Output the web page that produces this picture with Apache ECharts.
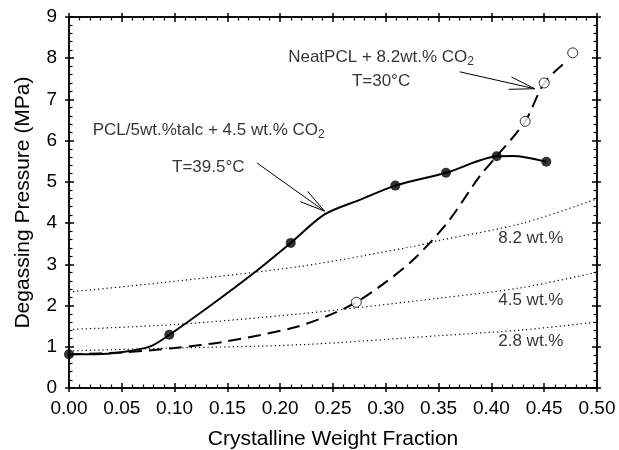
<!DOCTYPE html>
<html>
<head>
  <meta charset="utf-8">
  <title>Degassing Pressure vs Crystalline Weight Fraction</title>
  <script src="https://cdn.jsdelivr.net/npm/echarts@6/dist/echarts.min.js"></script>
</head>
<body style="margin:0">
  <div id="main" style="width: 619px; height: 450px;"></div>

  <script>
    // PCL/5wt.%talc + 4.5 wt.% CO2, T=39.5°C  (filled circles + solid curve)
    var talcPoints = [[0.000, 0.82], [0.095, 1.29], [0.210, 3.52], [0.309, 4.91], [0.357, 5.22], [0.405, 5.62], [0.452, 5.49]];
    var talcCurve = [[0.000, 0.82], [0.025, 0.82], [0.050, 0.87], [0.077, 1.01], [0.095, 1.29], [0.135, 2.02],
      [0.175, 2.79], [0.210, 3.52], [0.242, 4.21], [0.276, 4.57], [0.309, 4.91], [0.357, 5.22],
      [0.405, 5.62], [0.420, 5.63], [0.452, 5.49]];

    // NeatPCL + 8.2wt.% CO2, T=30°C  (open circles + dashed curve)
    var neatPoints = [[0.272, 2.08], [0.432, 6.47], [0.450, 7.40], [0.477, 8.13]];
    var neatCurve = [[0.000, 0.82], [0.050, 0.86], [0.100, 0.97], [0.149, 1.13], [0.212, 1.46], [0.244, 1.74],
      [0.272, 2.08], [0.299, 2.55], [0.326, 3.11], [0.358, 4.00], [0.389, 5.14], [0.405, 5.62],
      [0.432, 6.47], [0.450, 7.40], [0.470, 7.90]];

    // dotted reference curves
    var iso82 = [[0.000, 2.33], [0.086, 2.55], [0.219, 2.95], [0.323, 3.42], [0.351, 3.58], [0.430, 4.00], [0.500, 4.59]];
    var iso45 = [[0.000, 1.42], [0.100, 1.54], [0.219, 1.80], [0.351, 2.18], [0.430, 2.44], [0.500, 2.81]];
    var iso28 = [[0.000, 0.90], [0.100, 0.97], [0.219, 1.05], [0.351, 1.27], [0.430, 1.41], [0.500, 1.60]];

    // arrows: [fromX, fromY, toX, toY]
    var arrows = [[0.178, 5.46, 0.242, 4.29], [0.370, 7.67, 0.441, 7.26]];

    // text notes: [text, x, y, anchor]
    var notes = [
      ['PCL/5wt.%talc + 4.5 wt.% CO2', 0.1323, 6.25, 'center'],
      ['T=39.5°C', 0.1319, 5.35, 'center'],
      ['NeatPCL + 8.2wt.% CO2', 0.2955, 8.03, 'center'],
      ['T=30°C', 0.2955, 7.43, 'center'],
      ['8.2 wt.%', 0.4065, 3.64, 'left'],
      ['4.5 wt.%', 0.4065, 2.13, 'left'],
      ['2.8 wt.%', 0.4065, 1.13, 'left']
    ];

    var xTicks = { min: 0, max: 0.5, interval: 0.05 };
    var yTicks = { min: 0, max: 9, interval: 1 };

    var FONT = 'Liberation Sans, Arial, Helvetica, sans-serif';

    document.addEventListener('DOMContentLoaded', function () {
      var myChart = echarts.init(document.getElementById('main'));

      // one side of the frame; grid 0 gets inner ticks (+ minor), grid 1 the outer half of major ticks
      function frameAxis(range, position, gridIndex) {
        var inside = gridIndex === 0;
        return {
          type: 'value',
          gridIndex: gridIndex,
          position: position,
          min: range.min,
          max: range.max,
          interval: range.interval,
          axisLine: { show: true, onZero: false, lineStyle: { color: '#000', width: 1.5 } },
          axisTick: { show: true, inside: inside, length: inside ? 5 : 4, lineStyle: { color: '#000', width: 1.5 } },
          minorTick: { show: inside, splitNumber: 5, length: 3.5, lineStyle: { color: '#000', width: 1.2 } },
          splitLine: { show: false },
          axisLabel: { show: false }
        };
      }

      var xMain = frameAxis(xTicks, 'bottom', 0);
      xMain.axisLabel = {
        show: true, margin: 11, color: '#000', fontSize: 19, fontFamily: FONT,
        showMinLabel: true, showMaxLabel: true,
        formatter: function (v) { return v.toFixed(2); }
      };
      xMain.name = 'Crystalline Weight Fraction';
      xMain.nameLocation = 'middle';
      xMain.nameGap = 41;
      xMain.nameTextStyle = { color: '#000', fontSize: 21, fontFamily: FONT };

      var yMain = frameAxis(yTicks, 'left', 0);
      yMain.axisLabel = {
        show: true, margin: 12, color: '#000', fontSize: 19, fontFamily: FONT,
        showMinLabel: true, showMaxLabel: true
      };
      yMain.name = 'Degassing Pressure (MPa)';
      yMain.nameLocation = 'middle';
      yMain.nameGap = 35;
      yMain.nameRotate = 90;
      yMain.nameTextStyle = { color: '#000', fontSize: 21, fontFamily: FONT };

      function arrowItem(params, api) {
        var p0 = api.coord([api.value(0), api.value(1)]);
        var p1 = api.coord([api.value(2), api.value(3)]);
        var back = Math.atan2(p0[1] - p1[1], p0[0] - p1[0]);
        var spread = 14 * Math.PI / 180;
        var len = 26;
        var style = { stroke: '#000', lineWidth: 1 };
        function barb(sign) {
          var a = back + sign * spread;
          return {
            type: 'line',
            shape: { x1: p1[0], y1: p1[1], x2: p1[0] + len * Math.cos(a), y2: p1[1] + len * Math.sin(a) },
            style: style
          };
        }
        return {
          type: 'group',
          children: [
            { type: 'line', shape: { x1: p0[0], y1: p0[1], x2: p1[0], y2: p1[1] }, style: style },
            barb(1),
            barb(-1)
          ]
        };
      }

      function noteLabel(text) {
        var i = text.indexOf('CO2');
        if (i < 0) return '{t|' + text + '}';
        return '{t|' + text.slice(0, i) + 'CO}{s|2}';
      }

      var dotted = { color: '#000', width: 1.2, type: [1.2, 3] };
      var box = { left: 69, right: 22, top: 17, bottom: 62, outerBoundsMode: 'none' };

      var option = {
        animation: false,
        backgroundColor: '#fff',
        grid: [box, box],
        xAxis: [
          xMain,
          frameAxis(xTicks, 'top', 0),
          frameAxis(xTicks, 'bottom', 1),
          frameAxis(xTicks, 'top', 1)
        ],
        yAxis: [
          yMain,
          frameAxis(yTicks, 'right', 0),
          frameAxis(yTicks, 'left', 1),
          frameAxis(yTicks, 'right', 1)
        ],
        series: [
          { type: 'line', data: iso82, showSymbol: false, smooth: 0.3, lineStyle: dotted, silent: true },
          { type: 'line', data: iso45, showSymbol: false, smooth: 0.3, lineStyle: dotted, silent: true },
          { type: 'line', data: iso28, showSymbol: false, smooth: 0.3, lineStyle: dotted, silent: true },
          {
            type: 'line', data: neatCurve, showSymbol: false, smooth: 0.3,
            lineStyle: { color: '#000', width: 2, type: [13, 7] }
          },
          {
            type: 'line', data: talcCurve, showSymbol: false, smooth: 0.3,
            lineStyle: { color: '#000', width: 2 }
          },
          {
            type: 'scatter', data: talcPoints, symbol: 'circle', symbolSize: 10,
            itemStyle: { color: '#000' }, z: 5
          },
          {
            type: 'scatter', data: neatPoints, symbol: 'circle', symbolSize: 10,
            itemStyle: { color: '#fff', borderColor: '#000', borderWidth: 1 }, z: 5
          },
          {
            type: 'custom', data: arrows, renderItem: arrowItem,
            encode: { x: [0, 2], y: [1, 3] }, z: 6, silent: true
          },
          {
            type: 'scatter', symbolSize: 0, silent: true, z: 7,
            data: notes.map(function (n) {
              return {
                value: [n[1], n[2]],
                label: {
                  show: true,
                  position: n[3] === 'left' ? 'right' : 'inside',
                  distance: 0,
                  formatter: noteLabel(n[0]),
                  rich: {
                    t: { fontSize: 17, fontFamily: FONT, color: '#000' },
                    s: { fontSize: 12, fontFamily: FONT, color: '#000', padding: [9, 0, 0, 0] }
                  }
                }
              };
            })
          }
        ]
      };

      myChart.setOption(option);
    });
  </script>
</body>
</html>
